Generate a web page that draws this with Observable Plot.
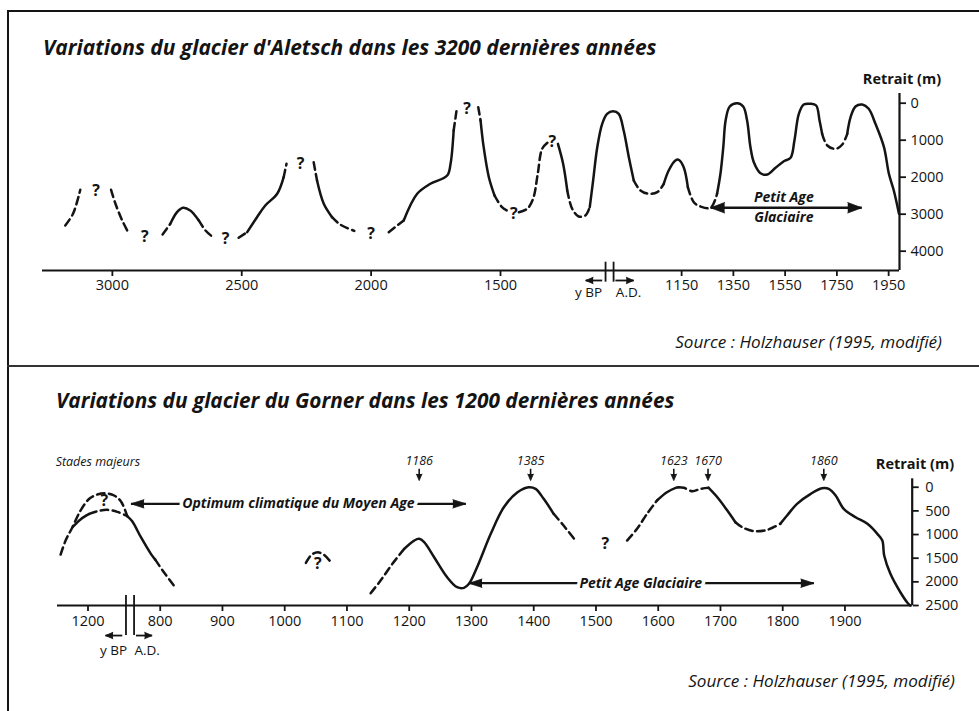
<!DOCTYPE html>
<html><head><meta charset="utf-8">
<script src="https://cdn.jsdelivr.net/npm/d3@7"></script>
<script src="https://cdn.jsdelivr.net/npm/@observablehq/plot@0.6"></script>
<style>
html,body{margin:0;padding:0;background:#fff;}
#page{position:relative;width:979px;height:711px;overflow:hidden;font-family:"Open Sans",sans-serif;color:#141414;}
.abs{position:absolute;white-space:nowrap;line-height:1;z-index:4;}
.rule{position:absolute;background:#141414;z-index:6;}
svg.plot{position:absolute;left:0;}
</style></head><body><div id="page"></div>
<script>
// ---------------- DATA ----------------
// Aletsch: x = year (negative = before Christ, y BP = 1950 - year), y = retrait (m),
// third value = style of the stretch to the next point: "s" solid, "d" dashed, "-" gap
const aletschTickYears  = [-1050, -550, -50, 450, 1150, 1350, 1550, 1750, 1950];
const aletschTickLabels = ["3000", "2500", "2000", "1500", "1150", "1350", "1550", "1750", "1950"];
const aletschRetraitTicks = [0, 1000, 2000, 3000, 4000];
const aletschCurve = [
  [-1232,3305,"d"],[-1202,2989,"d"],[-1174,2341,"-"],
  [-1055,2341,"d"],[-1038,2719,"d"],[-1012,3170,"d"],[-987,3514,"-"],
  [-856,3549,"d"],[-826,3260,"s"],[-800,2946,"s"],[-777,2827,"s"],[-749,2900,"s"],[-716,3170,"d"],[-690,3441,"d"],[-661,3622,"-"],
  [-562,3638,"d"],[-529,3486,"s"],[-491,3081,"s"],[-459,2765,"s"],[-413,2449,"s"],[-388,2000,"d"],[-377,1638,"-"],
  [-272,1597,"d"],[-259,2092,"s"],[-233,2721,"s"],[-201,3081,"d"],[-169,3281,"d"],[-115,3450,"-"],
  [18,3486,"d"],[76,3170,"s"],[128,2449,"s"],[179,2178,"s"],[244,1954,"s"],[257,1638,"s"],[269,737,"d"],[282,108,"-"],
  [364,108,"d"],[373,468,"s"],[385,1189,"s"],[405,2000,"s"],[427,2495,"d"],[456,2811,"d"],[482,2927,"-"],
  [521,2946,"d"],[553,2854,"d"],[576,2584,"d"],[594,1908,"d"],[611,1232,"d"],[633,1060,"-"],
  [672,1100,"s"],[692,1638,"s"],[708,2360,"d"],[727,2854,"d"],[752,3062,"d"],[778,3035,"d"],
  [795,2811,"s"],[808,2089,"s"],[824,1189,"s"],[843,557,"s"],[862,287,"s"],[885,216,"s"],[907,287,"s"],[926,738,"s"],[946,1460,"s"],
  [965,2089,"d"],[991,2360,"d"],[1023,2449,"d"],[1056,2405,"d"],
  [1081,2179,"s"],[1100,1819,"s"],[1126,1549,"s"],[1139,1530,"s"],[1158,1730,"s"],
  [1174,2270,"d"],[1197,2676,"d"],[1223,2792,"d"],[1262,2827,"d"],
  [1287,2449,"s"],[1300,1908,"s"],[1311,1189,"s"],[1320,468,"s"],[1336,89,"s"],[1365,0,"s"],[1388,89,"s"],[1403,468,"s"],
  [1416,1189,"s"],[1429,1595,"s"],[1455,1892,"s"],[1481,1927,"s"],[1513,1746,"s"],[1545,1568,"s"],[1571,1476,"s"],
  [1586,1008,"s"],[1603,287,"s"],[1622,35,"s"],[1648,16,"s"],[1670,62,"s"],[1683,468,"s"],
  [1693,827,"d"],[1713,1143,"d"],[1745,1233,"d"],[1771,1116,"d"],
  [1790,827,"s"],[1803,378,"s"],[1822,89,"s"],[1848,35,"s"],[1873,151,"s"],[1899,557,"s"],[1932,1189,"s"],
  [1951,1908,"s"],[1970,2360,"s"],[1990,2990,"-"]
];
const aletschQuestions = [[-1113,2360],[-925,3622],[-613,3665],[-323,1638],[-50,3530],[321,151],[501,2990],[650,1040]];
const aletschBreaks = [856, 887];
const aletschPAG = {from: 1262, to: 1846, level: 2827, line1: "Petit Age", line2: "Glaciaire", y1: 2557, y2: 3098, xText: 1545};
const aletschEraArrows = [{from: 843, to: 779, label: "y BP", xl: 790}, {from: 894, to: 965, label: "A.D.", xl: 945}];

// Gorner: x = year A.D. position on the axis, y = retrait (m)
const gornerTickYears  = [684, 800, 900, 1000, 1100, 1200, 1300, 1400, 1500, 1600, 1700, 1800, 1900];
const gornerTickLabels = ["1200", "800", "900", "1000", "1100", "1200", "1300", "1400", "1500", "1600", "1700", "1800", "1900"];
const gornerRetraitTicks = [0, 500, 1000, 1500, 2000, 2500];
const gornerOuter = [
  [640,1423,"d"],[648,1127,"d"],[659,846,"d"],[672,493,"d"],[686,245,"d"],[699,154,"d"],[712,127,"d"],[726,175,"d"],[737,300,"d"],[747,610,"-"]
];
const gornerInner = [
  [659,846,"s"],[672,680,"s"],[686,565,"d"],[699,507,"d"],[715,478,"d"],[731,520,"d"],[747,610,"s"],[755,720,"s"],[769,1057,"s"],[785,1408,"s"],
  [792,1530,"d"],[805,1780,"d"],[822,2078,"-"]
];
const gornerArc = [[1034,1600,"d"],[1043,1430,"d"],[1053,1374,"d"],[1063,1430,"d"],[1074,1580,"-"]];
const gornerMain = [
  [1138,2241,"d"],[1154,1972,"d"],[1173,1619,"d"],
  [1192,1302,"s"],[1208,1127,"s"],[1216,1091,"s"],[1224,1163,"s"],[1240,1480,"s"],[1261,1903,"s"],[1277,2114,"s"],[1288,2127,"s"],
  [1296,2042,"s"],[1309,1691,"s"],[1331,985,"s"],[1352,423,"s"],[1374,106,"s"],[1392,0,"s"],[1403,34,"s"],[1416,245,"s"],
  [1432,562,"d"],[1448,810,"d"],[1465,1091,"-"],
  [1550,1127,"d"],[1566,879,"d"],[1582,562,"d"],
  [1598,281,"s"],[1614,106,"s"],[1628,13,"s"],
  [1633,0,"d"],[1641,13,"d"],[1655,85,"d"],[1668,34,"d"],
  [1681,13,"s"],[1695,211,"s"],[1711,493,"s"],
  [1724,740,"d"],[1735,846,"d"],[1754,930,"d"],[1775,901,"d"],
  [1796,774,"s"],[1807,598,"s"],[1823,351,"s"],[1845,140,"s"],[1863,21,"s"],[1874,34,"s"],[1885,175,"s"],[1898,457,"s"],
  [1917,634,"s"],[1936,774,"s"],[1952,985,"s"],[1960,1127,"s"],[1963,1444,"s"],[1973,1831,"s"],[1989,2220,"s"],[2001,2452,"s"],[2005,2500,"-"]
];
const gornerQuestions = [[710,281],[1053,1610],[1515,1197]];
const gornerStageYears  = [1216, 1395, 1625, 1680, 1866];
const gornerStageLabels = ["1186", "1385", "1623", "1670", "1860"];
const gornerBreaks = [745, 758];
const gornerOptimum = {from: 753, to: 1291, level: 351, label: "Optimum climatique du Moyen Age", xText: 1022};
const gornerPAG = {from: 1296, to: 1850, level: 2029, label: "Petit Age Glaciaire", xText: 1572};
const gornerEraArrows = [{from: 739, to: 712, label: "y BP", xl: 725}, {from: 761, to: 787, label: "A.D.", xl: 779}];

// ---------------- HELPERS ----------------
function toPieces(points, name) {
  const rows = []; let id = 0, cur = null;
  for (let i = 0; i < points.length - 1; i++) {
    const [x0, y0, s] = points[i], [x1, y1] = points[i + 1];
    if (s === "-") { cur = null; continue; }
    if (!cur || cur.style !== s) { cur = {style: s, id: name + (id++)}; rows.push({x: x0, y: y0, piece: cur.id, style: s}); }
    rows.push({x: x1, y: y1, piece: cur.id, style: s});
  }
  return rows;
}
const INK = "#141414";
function curveMarks(rows) {
  return [
    Plot.line(rows.filter(d => d.style === "s"), {x: "x", y: "y", z: "piece", curve: "catmull-rom", stroke: INK, strokeWidth: 2.5}),
    Plot.line(rows.filter(d => d.style === "d"), {x: "x", y: "y", z: "piece", curve: "catmull-rom", stroke: INK, strokeWidth: 2.5, strokeDasharray: "7.5,4.5"})
  ];
}
function heads(list, opts) {
  return Plot.vector(list, {x: "x", y: "y", rotate: "rotate", shape: "spike", anchor: "end", fill: INK, stroke: INK, strokeWidth: 0.8, ...opts});
}
const font = "Open Sans";
const page = document.getElementById("page");

// ---------------- ALETSCH ----------------
const aY0 = -262, aY1 = 4522, aX0 = -1320, aX1 = 1992;
const aRows = toPieces(aletschCurve, "a");
const aLab = new Map(aletschTickYears.map((d, i) => [d, aletschTickLabels[i]]));
const aEraLevel = 4792, aEraText = 5108;
const topPlot = Plot.plot({
  width: 979, height: 365, marginLeft: 42, marginRight: 80, marginTop: 93, marginBottom: 95,
  x: {domain: [aX0, aX1]}, y: {domain: [aY0, aY1], reverse: true},
  style: {fontFamily: font, fontSize: "14px", background: "transparent", overflow: "visible", color: INK},
  marks: [
    Plot.axisX({ticks: aletschTickYears, tickFormat: d => aLab.get(d), tickSize: 6, tickPadding: 3, fontSize: 14.5, strokeWidth: 1.8, label: null}),
    Plot.axisY({anchor: "right", ticks: aletschRetraitTicks, tickFormat: d => String(d), tickSize: 6, tickPadding: 5, fontSize: 14.5, strokeWidth: 1.8, label: null}),
    Plot.ruleY([aY1], {stroke: INK, strokeWidth: 2.2}),
    Plot.ruleX([aX1], {stroke: INK, strokeWidth: 2.2}),
    ...curveMarks(aRows),
    Plot.text(aletschQuestions, {x: d => d[0], y: d => d[1], text: () => "?", fontWeight: 700, fontSize: 16, fill: INK}),
    // Petit Age Glaciaire double arrow
    Plot.link([aletschPAG], {x1: "from", x2: "to", y1: "level", y2: "level", stroke: INK, strokeWidth: 2.4}),
    heads([{x: aletschPAG.from, y: aletschPAG.level, rotate: -90}, {x: aletschPAG.to, y: aletschPAG.level, rotate: 90}], {length: 14, r: 5.2}),
    Plot.text([aletschPAG], {x: "xText", y: "y1", text: "line1", fontWeight: 700, fontStyle: "italic", fontSize: 14, fill: INK}),
    Plot.text([aletschPAG], {x: "xText", y: "y2", text: "line2", fontWeight: 700, fontStyle: "italic", fontSize: 14, fill: INK}),
    // axis break and era arrows
    Plot.ruleX(aletschBreaks, {y1: 4298, y2: 4838, stroke: INK, strokeWidth: 1.8}),
    Plot.link(aletschEraArrows, {x1: "from", x2: "to", y1: aEraLevel, y2: aEraLevel, stroke: INK, strokeWidth: 1.8}),
    heads(aletschEraArrows.map(d => ({x: d.to, y: aEraLevel, rotate: d.to < d.from ? -90 : 90})), {length: 7.5, r: 3.2}),
    Plot.text(aletschEraArrows, {x: "xl", y: aEraText, text: "label", fontSize: 13.5, fill: INK}),
    Plot.text(["Retrait (m)"], {frameAnchor: "top-right", textAnchor: "middle", dx: 2.5, dy: -20, fontWeight: 700, fontSize: 14.5, fill: INK})
  ]
});
topPlot.style.top = "0px";
page.appendChild(topPlot);

// ---------------- GORNER ----------------
const gY0 = -178, gY1 = 2500, gX0 = 635, gX1 = 2008;
const gRows = [...toPieces(gornerOuter, "o"), ...toPieces(gornerInner, "i"), ...toPieces(gornerArc, "c"), ...toPieces(gornerMain, "m")];
const gLab = new Map(gornerTickYears.map((d, i) => [d, gornerTickLabels[i]]));
const gEraLevel = 3135, gEraText = 3454;
const stageText = -550, stageTop = -390, stageTip = -140;
const bottomPlot = Plot.plot({
  width: 979, height: 346, marginLeft: 57, marginRight: 67.3, marginTop: 113.3, marginBottom: 106,
  x: {domain: [gX0, gX1]}, y: {domain: [gY0, gY1], reverse: true},
  style: {fontFamily: font, fontSize: "14px", background: "transparent", overflow: "visible", color: INK},
  marks: [
    Plot.axisX({ticks: gornerTickYears, tickFormat: d => gLab.get(d), tickSize: 6, tickPadding: 4, fontSize: 14.5, strokeWidth: 1.8, label: null}),
    Plot.axisY({anchor: "right", ticks: gornerRetraitTicks, tickFormat: d => String(d), tickSize: 6, tickPadding: 7, fontSize: 14.5, strokeWidth: 1.8, label: null}),
    Plot.ruleY([gY1], {stroke: INK, strokeWidth: 2.2}),
    Plot.ruleX([gX1], {stroke: INK, strokeWidth: 2.2}),
    ...curveMarks(gRows),
    Plot.text(gornerQuestions, {x: d => d[0], y: d => d[1], text: () => "?", fontWeight: 700, fontSize: 16, fill: INK}),
    // stades majeurs
    Plot.text(["Stades majeurs"], {x: gX0 - 3, y: -528, textAnchor: "start", fontStyle: "italic", fontSize: 12.5, fill: INK}),
    Plot.text(gornerStageYears, {x: d => d, y: stageText, text: (d, i) => gornerStageLabels[i], fontStyle: "italic", fontSize: 12.5, fill: INK}),
    Plot.link(gornerStageYears, {x1: d => d, x2: d => d, y1: stageTop, y2: stageTip - 60, stroke: INK, strokeWidth: 1.6}),
    heads(gornerStageYears.map(d => ({x: d, y: stageTip, rotate: 180})), {length: 6.5, r: 2.8}),
    // Optimum climatique
    Plot.link([gornerOptimum], {x1: "from", x2: "to", y1: "level", y2: "level", stroke: INK, strokeWidth: 2.2}),
    heads([{x: gornerOptimum.from, y: gornerOptimum.level, rotate: -90}, {x: gornerOptimum.to, y: gornerOptimum.level, rotate: 90}], {length: 13, r: 4.2}),
    Plot.text([gornerOptimum], {x: "xText", y: "level", text: "label", fontWeight: 700, fontStyle: "italic", fontSize: 14, fill: INK, stroke: "white", strokeWidth: 7, paintOrder: "stroke"}),
    // Petit Age Glaciaire
    Plot.link([gornerPAG], {x1: "from", x2: "to", y1: "level", y2: "level", stroke: INK, strokeWidth: 2.2}),
    heads([{x: gornerPAG.from, y: gornerPAG.level, rotate: -90}, {x: gornerPAG.to, y: gornerPAG.level, rotate: 90}], {length: 13, r: 4.2}),
    Plot.text([gornerPAG], {x: "xText", y: "level", text: "label", fontWeight: 700, fontStyle: "italic", fontSize: 14, fill: INK, stroke: "white", strokeWidth: 7, paintOrder: "stroke"}),
    // axis break and era arrows
    Plot.ruleX(gornerBreaks, {y1: 2289, y2: 3135, stroke: INK, strokeWidth: 1.8}),
    Plot.link(gornerEraArrows, {x1: "from", x2: "to", y1: gEraLevel, y2: gEraLevel, stroke: INK, strokeWidth: 1.8}),
    heads(gornerEraArrows.map(d => ({x: d.to, y: gEraLevel, rotate: d.to < d.from ? -90 : 90})), {length: 7.5, r: 3.2}),
    Plot.text(gornerEraArrows, {x: "xl", y: gEraText, text: "label", fontSize: 13.5, fill: INK}),
    Plot.text(["Retrait (m)"], {frameAnchor: "top-right", textAnchor: "middle", dx: 2.8, dy: -20, fontWeight: 700, fontSize: 14.5, fill: INK})
  ]
});
bottomPlot.style.top = "365px";
page.appendChild(bottomPlot);

// ---------------- TITLES, SOURCES, FRAME ----------------
function placeText(str, {x, right, cy, width, size, weight = 400, italic = false}) {
  const el = document.createElement("div");
  el.className = "abs";
  el.textContent = str;
  el.style.fontSize = size + "px";
  el.style.fontWeight = weight;
  el.style.fontStyle = italic ? "italic" : "normal";
  page.appendChild(el);
  const w0 = el.getBoundingClientRect().width;
  const fs = size * width / w0;
  el.style.fontSize = fs + "px";
  const w = el.getBoundingClientRect().width;
  el.style.left = (x != null ? x : right - w) + "px";
  el.style.top = (cy - 0.53 * fs) + "px";
}
placeText("Variations du glacier d'Aletsch dans les 3200 dernières années", {x: 43, cy: 48, width: 614, size: 20, weight: 700, italic: true});
placeText("Variations du glacier du Gorner dans les 1200 dernières années", {x: 56, cy: 401, width: 619, size: 20, weight: 700, italic: true});
placeText("Source : Holzhauser (1995, modifié)", {right: 942, cy: 342.5, width: 267, size: 15, italic: true});
placeText("Source : Holzhauser (1995, modifié)", {right: 955, cy: 681, width: 267, size: 15, italic: true});

function rule(l, t, w, h, c) { const d = document.createElement("div"); d.className = "rule"; Object.assign(d.style, {left: l + "px", top: t + "px", width: w + "px", height: h + "px"}); if (c) d.style.background = c; page.appendChild(d); }
rule(7, 10, 972, 2.2);
rule(7, 10, 2.2, 701);
rule(7, 364.5, 972, 2.2, "#333");
</script></body></html>
